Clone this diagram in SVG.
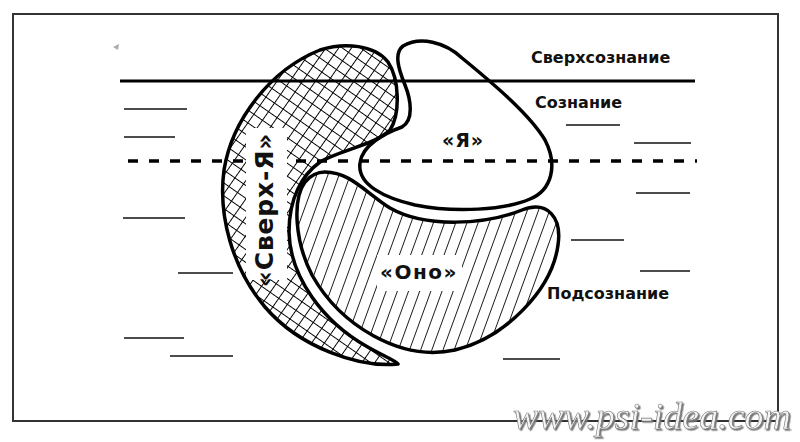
<svg xmlns="http://www.w3.org/2000/svg" width="800" height="442" viewBox="0 0 800 442">
<style>
.frame{fill:none;stroke:#333;stroke-width:2}
.lvl{stroke:#111;stroke-width:1.6;fill:none}
.outline{fill:none;stroke:#000;stroke-width:3.5;stroke-linejoin:round}
.lbl{font-family:"DejaVu Sans","Liberation Sans",sans-serif;font-weight:bold;fill:#111}
.wm{font-family:"Liberation Serif","DejaVu Serif",serif;font-style:italic;font-size:38px}
</style>
<defs>
<pattern id="grid" patternUnits="userSpaceOnUse" width="10.5" height="10.5" patternTransform="rotate(35)">
<path d="M0,0 H10.5 M0,0 V10.5" stroke="#000" stroke-width="1.9" fill="none"/>
</pattern>
<pattern id="lines" patternUnits="userSpaceOnUse" width="10.5" height="10.5" patternTransform="rotate(20)">
<path d="M0,-1 V11.5" stroke="#000" stroke-width="1.7" fill="none"/>
</pattern>
<filter id="shadow" x="-5%" y="-20%" width="110%" height="140%">
<feDropShadow dx="1.5" dy="1.5" stdDeviation="0.6" flood-color="#777"/>
</filter>
</defs>
<rect width="800" height="442" fill="#fff"/>
<rect class="frame" x="13" y="14" width="765" height="407"/>
<polygon points="113,47 119,44 118,50" fill="#aaa"/>
<g id="levels">
<line x1="120" y1="81" x2="695" y2="81" stroke="#000" stroke-width="3"/>
<line x1="128" y1="161" x2="697" y2="161" stroke="#000" stroke-width="3.5" stroke-dasharray="10 11"/>
<line class="lvl" x1="124" y1="109" x2="187" y2="109"/>
<line class="lvl" x1="124" y1="137" x2="175" y2="137"/>
<line class="lvl" x1="123" y1="218" x2="185" y2="218"/>
<line class="lvl" x1="178" y1="273" x2="233" y2="273"/>
<line class="lvl" x1="124" y1="338" x2="184" y2="338"/>
<line class="lvl" x1="170" y1="356" x2="233" y2="356"/>
<line class="lvl" x1="566" y1="125" x2="620" y2="125"/>
<line class="lvl" x1="634" y1="143" x2="691" y2="143"/>
<line class="lvl" x1="636" y1="193" x2="690" y2="193"/>
<line class="lvl" x1="571" y1="240" x2="624" y2="240"/>
<line class="lvl" x1="640" y1="271" x2="690" y2="271"/>
<line class="lvl" x1="503" y1="359" x2="560" y2="359"/>
</g>
<g id="superego">
<path d="M398,364 C360,368 300,348 265,307 C232,268 218,215 224,170 C232,120 270,70 320,50 C345,42 375,45 388,62 C400,80 400,115 390,130 C375,145 340,150 320,162 C302,175 289,198 289,232 C290,278 324,322 366,346 C383,356 395,360 398,364 Z" fill="url(#grid)"/>
<rect x="246" y="128" width="41" height="152" fill="#fff"/>
<path class="outline" d="M398,364 C360,368 300,348 265,307 C232,268 218,215 224,170 C232,120 270,70 320,50 C345,42 375,45 388,62 C400,80 400,115 390,130 C375,145 340,150 320,162 C302,175 289,198 289,232 C290,278 324,322 366,346 C383,356 395,360 398,364 Z"/>
<text class="lbl" font-size="25" letter-spacing="0.8" text-anchor="middle" transform="translate(273,210) rotate(-90)">«Сверх-Я»</text>
</g>
<g id="ego">
<path class="outline" d="M403,46 C420,36 445,42 462,58 C495,85 530,115 545,140 C558,165 552,190 530,199 C505,210 455,213 415,205 C385,198 357,185 360,163 C362,145 385,133 402,127 C414,120 411,100 405,85 C398,68 394,53 403,46 Z"/>
<text class="lbl" x="463" y="147" font-size="19" letter-spacing="1" text-anchor="middle">«Я»</text>
</g>
<g id="id">
<path d="M325,172 C350,172 365,192 390,208 C425,228 485,225 522,210 C548,200 562,218 558,245 C552,290 505,338 455,350 C400,362 340,325 312,275 C295,242 292,200 305,182 C311,175 318,172 325,172 Z" fill="url(#lines)"/>
<rect x="377" y="255" width="85" height="36" fill="#fff"/>
<path class="outline" d="M325,172 C350,172 365,192 390,208 C425,228 485,225 522,210 C548,200 562,218 558,245 C552,290 505,338 455,350 C400,362 340,325 312,275 C295,242 292,200 305,182 C311,175 318,172 325,172 Z"/>
<text class="lbl" x="419" y="279" font-size="20" letter-spacing="1.5" text-anchor="middle">«Оно»</text>
</g>
<g id="labels">
<text class="lbl" x="531" y="63" font-size="16">Сверхсознание</text>
<text class="lbl" x="535" y="108" font-size="16">Сознание</text>
<text class="lbl" x="547" y="299" font-size="16">Подсознание</text>
</g>
<g id="watermark">
<text class="wm" x="513" y="429" fill="#f4f4f4" stroke="#777" stroke-width="0.6" filter="url(#shadow)">www.psi-idea.com</text>
</g>
</svg>
